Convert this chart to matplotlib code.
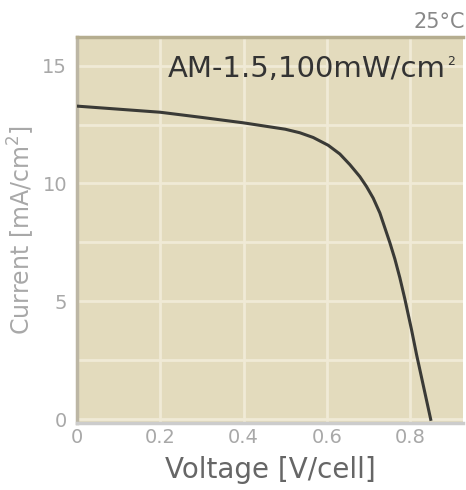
import numpy as np
import matplotlib
matplotlib.use('Agg')
import matplotlib.pyplot as plt
from matplotlib.ticker import MultipleLocator

# I-V curve
voltage = [0.0, 0.1, 0.2, 0.3, 0.4, 0.5, 0.535, 0.567, 0.603, 0.631,
           0.655, 0.679, 0.695, 0.711, 0.727, 0.739, 0.751, 0.763, 0.775,
           0.787, 0.803, 0.815, 0.849]
current = [13.28, 13.15, 13.02, 12.8, 12.57, 12.3, 12.15, 11.95, 11.62, 11.25,
           10.8, 10.29, 9.87, 9.38, 8.75, 8.12, 7.49, 6.8, 6.0,
           5.1, 3.8, 2.75, 0.0]

x_ticks = [0, 0.2, 0.4, 0.6, 0.8]
x_tick_labels = ['0', '0.2', '0.4', '0.6', '0.8']
y_ticks = [0, 5, 10, 15]
y_tick_labels = ['0', '5', '10', '15']

COLORS = {
    'face': '#e3dbbd',
    'grid': '#f0ead6',
    'curve': '#3a3a36',
    'tick': '#a8a8a8',
    'label': '#666666',
    'title': '#333333',
    'spine_left': '#bcb6a4',
    'spine_top': '#b5ad8f',
    'spine_bottom': '#cccccc',
}

fig = plt.figure(figsize=(4.66, 4.90), dpi=100)
ax = fig.add_axes([0.165, 0.137, 0.829, 0.787])
ax.set_facecolor(COLORS['face'])

ax.plot(voltage, current, color=COLORS['curve'], linewidth=2.2, zorder=3,
        solid_joinstyle='round')

ax.set_xlim(0, 0.927)
ax.set_ylim(-0.15, 16.2)

ax.set_xticks(x_ticks)
ax.set_xticklabels(x_tick_labels)
ax.set_yticks(y_ticks)
ax.set_yticklabels(y_tick_labels)
ax.yaxis.set_minor_locator(MultipleLocator(2.5))

ax.grid(True, which='major', axis='x', color=COLORS['grid'], linewidth=2)
ax.grid(True, which='both', axis='y', color=COLORS['grid'], linewidth=2)
ax.set_axisbelow(True)

ax.tick_params(axis='both', which='both', length=0, labelsize=14,
               labelcolor=COLORS['tick'])
ax.tick_params(axis='x', pad=4)
ax.tick_params(axis='y', pad=7)

ax.spines['left'].set_color(COLORS['spine_left'])
ax.spines['left'].set_linewidth(2.5)
ax.spines['top'].set_color(COLORS['spine_top'])
ax.spines['top'].set_linewidth(2.5)
ax.spines['bottom'].set_color(COLORS['spine_bottom'])
ax.spines['bottom'].set_linewidth(2.5)
ax.spines['right'].set_visible(False)

ax.set_xlabel('Voltage [V/cell]', fontsize=20, color=COLORS['label'], labelpad=6)
ax.set_ylabel('Current [mA/cm$^2$]', fontsize=17, color=COLORS['tick'], labelpad=4)

# condition label with a small raised "2"
title = ax.text(0.955, 0.955, 'AM-1.5,100mW/cm', transform=ax.transAxes,
                ha='right', va='top', fontsize=21, color=COLORS['title'])
ax.annotate('2', xy=(1.0, 1.0), xycoords=title, xytext=(1, 0),
            textcoords='offset points', ha='left', va='top', fontsize=9,
            color=COLORS['title'])
fig.text(0.997, 0.955, '25\u00b0C', ha='right', va='center', fontsize=15,
         color='#888888')

fig.savefig('out.png', dpi=100, facecolor='white')
